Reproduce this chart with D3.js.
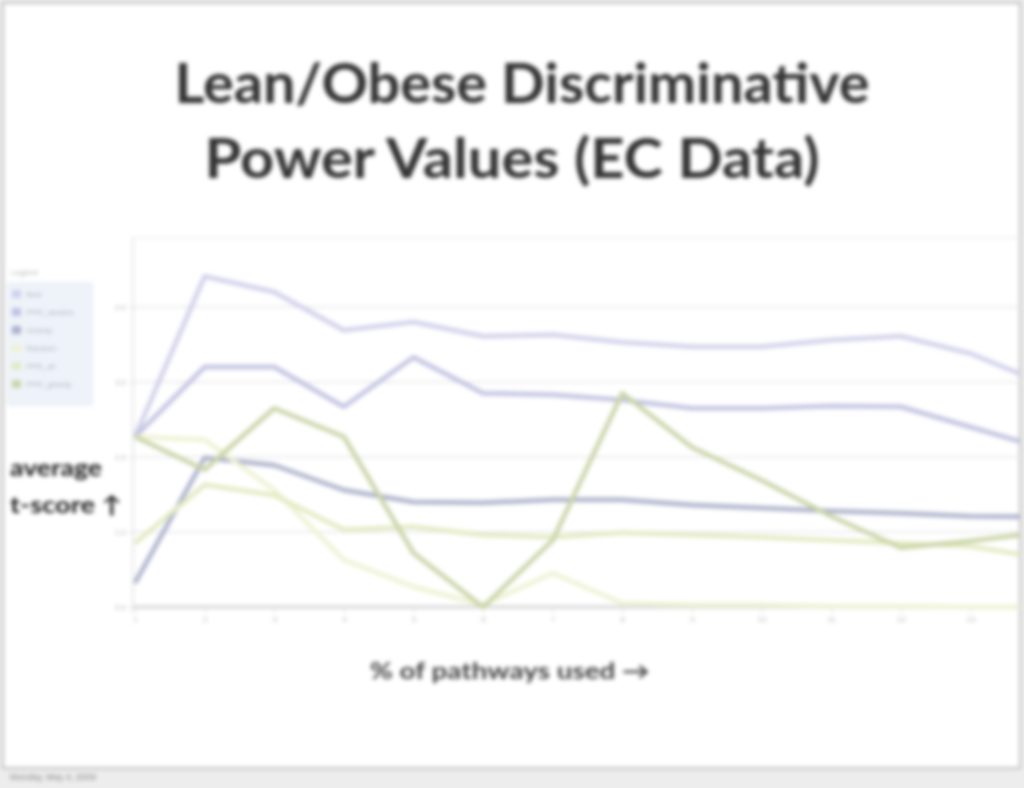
<!DOCTYPE html>
<html>
<head>
<meta charset="utf-8">
<script src="https://cdn.jsdelivr.net/npm/d3@7"></script>
<style>
  html, body { margin: 0; padding: 0; background: #ededed; }
  #chart { width: 1024px; height: 788px; }
  svg { display: block; filter: blur(2px); }
</style>
</head>
<body>
<div id="chart"></div>
<script>
// x positions (index of sample point), tick labels along the bottom
const xTicks = ['1', '2', '3', '4', '5', '6', '7', '8', '9', '10', '11', '12', '13'];
const xIndex = [0, 1, 2, 3, 4, 5, 6, 7, 8, 9, 10, 11, 12, 13];
const yTicks = [0, 1, 2, 3, 4];

const seriesNames = ['ttest', 'PPR_random', 'Greedy', 'Random', 'PPR_all', 'PPR_greedy'];
const seriesColors = ['#d0d0ea', '#c0c2e0', '#abb1ca', '#eff2d3', '#e3eac2', '#cad4a8'];

const ttest = [2.27, 4.41, 4.2, 3.69, 3.8, 3.61, 3.63, 3.53, 3.47, 3.47, 3.56, 3.61, 3.38, 3.0];
const pprRandom = [2.27, 3.2, 3.2, 2.67, 3.33, 2.85, 2.83, 2.76, 2.65, 2.65, 2.68, 2.67, 2.4, 2.13];
const greedy = [0.32, 1.99, 1.89, 1.56, 1.4, 1.39, 1.43, 1.43, 1.36, 1.32, 1.28, 1.25, 1.21, 1.2];
const random = [2.27, 2.23, 1.56, 0.63, 0.27, 0.03, 0.45, 0.05, 0.03, 0.03, 0.01, 0.01, 0, 0];
const pprAll = [0.85, 1.63, 1.49, 1.03, 1.07, 0.96, 0.93, 0.99, 0.96, 0.93, 0.89, 0.85, 0.81, 0.66];
const pprGreedy = [2.27, 1.83, 2.65, 2.27, 0.72, 0, 0.89, 2.85, 2.13, 1.69, 1.21, 0.79, 0.88, 0.99];

const allSeries = [ttest, pprRandom, greedy, random, pprAll, pprGreedy];

const width = 1024, height = 788;
const svg = d3.select('#chart').append('svg').attr('width', width).attr('height', height);

// slide frame
svg.append('rect').attr('x', 3).attr('y', 3).attr('width', 1017).attr('height', 765)
  .attr('fill', 'white').attr('stroke', '#bdbdbd').attr('stroke-width', 2);

// title
const title = svg.append('g').attr('font-family', 'Lato, "Open Sans", sans-serif')
  .attr('font-weight', 'bold').attr('fill', '#333').attr('text-anchor', 'middle');
title.append('text').attr('x', 522).attr('y', 103).attr('font-size', 56)
  .attr('textLength', 695).attr('lengthAdjust', 'spacingAndGlyphs')
  .text('Lean/Obese Discriminative');
title.append('text').attr('x', 512).attr('y', 178).attr('font-size', 56)
  .attr('textLength', 615).attr('lengthAdjust', 'spacingAndGlyphs')
  .text('Power Values (EC Data)');

// plot area
const plotLeft = 133, plotRight = 1020, plotTop = 238;
const x = d3.scaleLinear().domain([0, 13]).range([135, 1040]);
const y = d3.scaleLinear().domain([0, 4]).range([607, 307]);

const plot = svg.append('g');

svg.append('clipPath').attr('id', 'clip').append('rect')
  .attr('x', plotLeft).attr('y', plotTop).attr('width', plotRight - plotLeft).attr('height', 380);

// grid
plot.selectAll('line.grid').data(yTicks).enter().append('line')
  .attr('class', 'grid')
  .attr('x1', plotLeft).attr('x2', plotRight)
  .attr('y1', d => y(d)).attr('y2', d => y(d))
  .attr('stroke', d => d === 0 ? '#d4d4d4' : '#ececec')
  .attr('stroke-width', d => d === 0 ? 3 : 2);
plot.append('line').attr('x1', plotLeft).attr('x2', plotRight).attr('y1', plotTop).attr('y2', plotTop)
  .attr('stroke', '#f2f2f2').attr('stroke-width', 2);
plot.append('line').attr('x1', plotLeft).attr('x2', plotLeft).attr('y1', plotTop).attr('y2', 612)
  .attr('stroke', '#e6e6e6').attr('stroke-width', 2);

// axes
const xAxis = d3.axisBottom(x).tickValues(d3.range(0, 13)).tickFormat(i => xTicks[i]).tickSize(4);
const gx = plot.append('g').attr('transform', 'translate(0,609)').call(xAxis);
gx.select('.domain').remove();
gx.selectAll('line').attr('stroke', '#dcdcdc');
gx.selectAll('text').attr('fill', '#bbbbbb').attr('font-size', 8).attr('font-family', 'Arial, sans-serif');

const yAxis = d3.axisLeft(y).tickValues(yTicks).tickFormat(d3.format('.1f')).tickSize(4);
const gy = plot.append('g').attr('transform', 'translate(' + plotLeft + ',0)').call(yAxis);
gy.select('.domain').remove();
gy.selectAll('line').attr('stroke', '#dcdcdc');
gy.selectAll('text').attr('fill', '#bbbbbb').attr('font-size', 8).attr('font-family', 'Arial, sans-serif');

// lines
const line = d3.line().x((d, i) => x(xIndex[i])).y(d => y(d));
plot.append('g').attr('clip-path', 'url(#clip)')
  .selectAll('path').data(allSeries).enter().append('path')
  .attr('d', line)
  .attr('fill', 'none')
  .attr('stroke', (d, i) => seriesColors[i])
  .attr('stroke-width', 4.5)
  .attr('stroke-linejoin', 'round');

// legend
const legend = svg.append('g').attr('transform', 'translate(8,268)')
  .attr('font-family', 'Arial, sans-serif');
legend.append('text').attr('x', 3).attr('y', 7).attr('font-size', 8).attr('fill', '#bbbbbb').text('Legend');
legend.append('rect').attr('x', 0).attr('y', 15).attr('width', 84).attr('height', 122)
  .attr('fill', '#eef3fa').attr('stroke', '#e0e6ef');
const entry = legend.selectAll('g.entry').data(seriesNames).enter().append('g')
  .attr('class', 'entry')
  .attr('transform', (d, i) => 'translate(4,' + (26 + i * 18) + ')');
entry.append('rect').attr('x', 0).attr('y', -4).attr('width', 9).attr('height', 8)
  .attr('fill', (d, i) => seriesColors[i]);
entry.append('text').attr('x', 14).attr('y', 3).attr('font-size', 8).attr('fill', '#b4b8c4').text(d => d);

// axis titles
const ylab = svg.append('g').attr('font-family', 'Lato, "Open Sans", sans-serif')
  .attr('font-size', 23).attr('font-weight', 'bold').attr('fill', '#1a1a1a');
ylab.append('text').attr('x', 10).attr('y', 476).attr('textLength', 92).attr('lengthAdjust', 'spacingAndGlyphs').text('average');
ylab.append('text').attr('x', 10).attr('y', 513).attr('textLength', 112).attr('lengthAdjust', 'spacingAndGlyphs').text('t-score \u2191');

svg.append('text').attr('x', 510).attr('y', 679).attr('text-anchor', 'middle')
  .attr('font-family', 'Lato, "Open Sans", sans-serif').attr('font-size', 23).attr('font-weight', 'bold')
  .attr('textLength', 280).attr('lengthAdjust', 'spacingAndGlyphs')
  .attr('fill', '#444').text('% of pathways used \u2192');

// footer
svg.append('text').attr('x', 10).attr('y', 780).attr('font-family', 'Arial, sans-serif')
  .attr('font-size', 9).attr('fill', '#888').text('Monday, May 4, 2009');
</script>
</body>
</html>
